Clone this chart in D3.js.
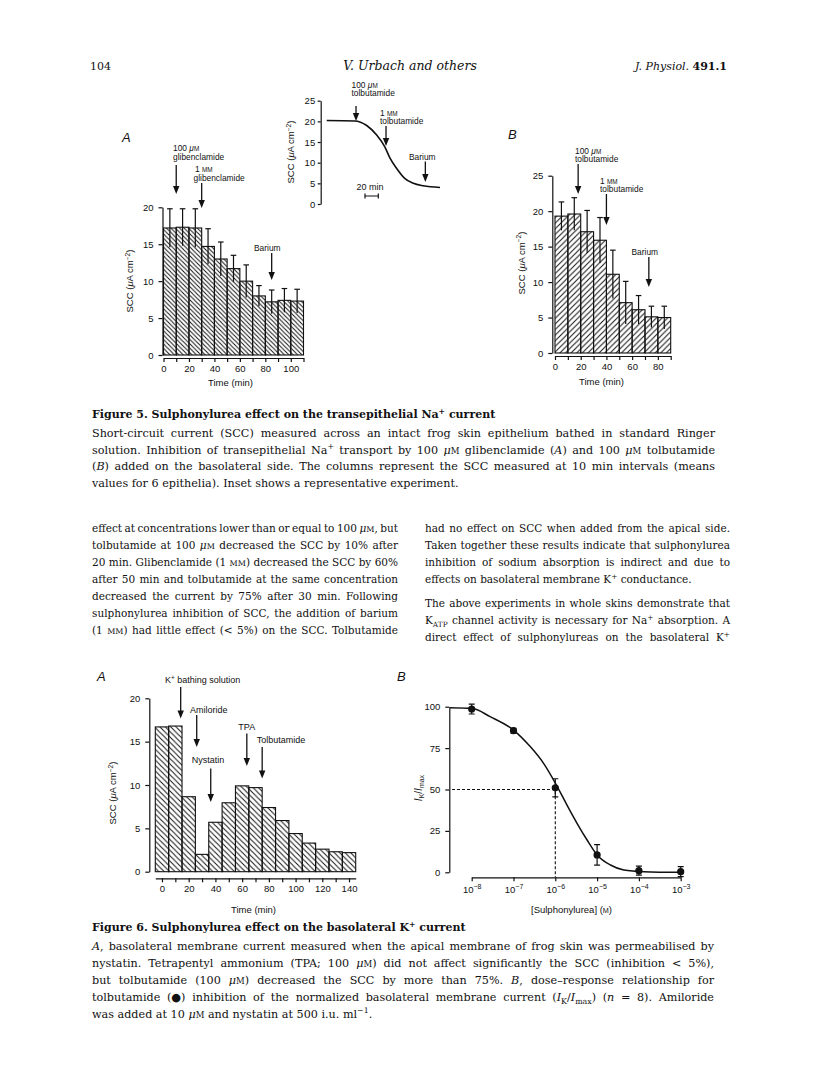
<!DOCTYPE html>
<html>
<head>
<meta charset="utf-8">
<script src="https://cdn.jsdelivr.net/npm/d3@7"></script>
<style>
  body { margin: 0; background: #fff; }
  svg  { display: block; }
  .ax text { font-family: "Liberation Sans", Arial, sans-serif; font-size: 9.5px; fill: #111; }
  .ax line, .ax path { stroke: #111; stroke-width: 1.2; }
</style>
</head>
<body>
<svg id="page" width="816" height="1068"></svg>
<script>
// ── Data: Figure 5 ────────────────────────────
const t5a   = [0, 10, 20, 30, 40, 50, 60, 70, 80, 90, 100];
const scc5a = [17.2, 17.3, 17.2, 14.7, 13.0, 11.7, 10.0, 8.0, 7.2, 7.4, 7.3];
const sem5a = [2.6, 2.5, 2.6, 2.4, 2.3, 1.8, 2.2, 1.4, 1.6, 1.6, 1.6];
const ev5a  = [10, 30, 85];

const t5b   = [0, 10, 20, 30, 40, 50, 60, 70, 80];
const scc5b = [19.3, 19.6, 17.1, 15.9, 11.1, 7.1, 6.1, 5.1, 5.0];
const sem5b = [2.0, 2.3, 3.0, 3.2, 3.4, 3.0, 2.0, 1.5, 1.6];
const ev5b  = [18, 40, 73];

const insetT   = [0, 42, 60, 75, 87, 95, 105, 117, 130, 145, 170];
const insetSCC = [20.2, 20.1, 19.0, 16.7, 13.9, 11.1, 8.6, 6.2, 5.0, 4.4, 4.0];
const evInset  = [44, 89, 148];

// ── Data: Figure 6 ────────────────────────────
const t6a   = [0, 10, 20, 30, 40, 50, 60, 70, 80, 90, 100, 110, 120, 130, 140];
const scc6a = [16.7, 16.8, 8.65, 2.0, 5.7, 7.95, 9.9, 9.7, 7.4, 5.9, 4.4, 3.3, 2.6, 2.3, 2.2];
const ev6a  = [14, 26, 36.5, 63.5, 75];

const conc6b = [1e-8, 1e-7, 1e-6, 1e-5, 1e-4, 1e-3];
const resp6b = [98.6, 85.5, 51.0, 10.5, 1.0, 0.4];
const sem6b  = [3.0, 1.5, 5.5, 6.2, 2.7, 3.0];
const fitLogC = [-8.52, -8, -7.56, -7, -6.6, -6.28, -5.96, -5.72, -5.48, -5.24, -5, -4.68, -4.36, -3.88, -3];
const fitResp = [99.4, 99.0, 94.0, 85.9, 75.9, 65.8, 52.1, 40.6, 29.6, 19.5, 10.5, 4.4, 1.4, 0.4, 0];

const ticks20  = [0, 5, 10, 15, 20];
const ticks25  = [0, 5, 10, 15, 20, 25];
const ticks100 = [0, 25, 50, 75, 100];

// ── Text ──────────────────────────────────────
const cap5 = [
  "Short-circuit current (SCC) measured across an intact frog skin epithelium bathed in standard Ringer",
  "solution. Inhibition of transepithelial Na<sup>+</sup> transport by 100 <i>μ</i><sc>M</sc> glibenclamide (<i>A</i>) and 100 <i>μ</i><sc>M</sc> tolbutamide",
  "(<i>B</i>) added on the basolateral side. The columns represent the SCC measured at 10 min intervals (means",
  "values for 6 epithelia). Inset shows a representative experiment."
];
const bodyLeft = [
  "effect at concentrations lower than or equal to 100 <i>μ</i><sc>M</sc>, but",
  "tolbutamide at 100 <i>μ</i><sc>M</sc> decreased the SCC by 10% after",
  "20 min. Glibenclamide (1 <sc>MM</sc>) decreased the SCC by 60%",
  "after 50 min and tolbutamide at the same concentration",
  "decreased the current by 75% after 30 min. Following",
  "sulphonylurea inhibition of SCC, the addition of barium",
  "(1 <sc>MM</sc>) had little effect (< 5%) on the SCC. Tolbutamide"
];
const bodyRight = [
  "had no effect on SCC when added from the apical side.",
  "Taken together these results indicate that sulphonylurea",
  "inhibition of sodium absorption is indirect and due to",
  "effects on basolateral membrane K<sup>+</sup> conductance.",
  "The above experiments in whole skins demonstrate that",
  "K<sub>ATP</sub> channel activity is necessary for Na<sup>+</sup> absorption. A",
  "direct effect of sulphonylureas on the basolateral K<sup>+</sup>"
];
const cap6 = [
  "<i>A</i>, basolateral membrane current measured when the apical membrane of frog skin was permeabilised by",
  "nystatin. Tetrapentyl ammonium (TPA; 100 <i>μ</i><sc>M</sc>) did not affect significantly the SCC (inhibition < 5%),",
  "but tolbutamide (100 <i>μ</i><sc>M</sc>) decreased the SCC by more than 75%. <i>B</i>, dose–response relationship for",
  "tolbutamide (●) inhibition of the normalized basolateral membrane current (<i>I</i><sub>K</sub>/<i>I</i><sub>max</sub>) (<i>n</i> = 8). Amiloride",
  "was added at 10 <i>μ</i><sc>M</sc> and nystatin at 500 i.u. ml<sup>−1</sup>."
];

const INK   = "#111";
const SANS  = '"Liberation Sans", Arial, sans-serif';
const SERIF = '"DejaVu Serif", serif';

const svg  = d3.select("#page");
svg.append("rect").attr("width", 816).attr("height", 1068).attr("fill", "#fff");
const defs = svg.append("defs");

// ── Helpers ───────────────────────────────────
function hatch(id, dir, s) {
  const p = defs.append("pattern").attr("id", id)
    .attr("patternUnits", "userSpaceOnUse")
    .attr("width", s).attr("height", s);
  const d = dir === "/"
    ? `M-1,1 l2,-2 M0,${s} l${s},${-s} M${s - 1},${s + 1} l2,-2`
    : `M-1,${s - 1} l2,2 M0,0 l${s},${s} M${s - 1},-1 l2,2`;
  p.append("path").attr("d", d).attr("stroke", INK).attr("stroke-width", 1);
}
hatch("h5a", "\\", 4.4);
hatch("h5b", "/", 5.6);
hatch("h6a", "\\", 5.4);

// tiny markup: <i> <b> <sup> <sub> <sc>
function rich(sel, str, fs) {
  const re = /<(i|b|sup|sub|sc)>(.*?)<\/\1>/g;
  let last = 0, off = 0, m;
  const put = (txt, kind) => {
    if (!txt) return;
    const target = kind === "sup" ? -0.4 * fs : kind === "sub" ? 0.28 * fs : 0;
    const t = sel.append("tspan").text(txt);
    if (target !== off) t.attr("dy", target - off);
    off = target;
    if (kind === "i") t.attr("font-style", "italic");
    if (kind === "b") t.attr("font-weight", "bold");
    if (kind === "sup" || kind === "sub") t.attr("font-size", 0.7 * fs);
    if (kind === "sc") t.attr("font-size", 0.76 * fs);
  };
  while ((m = re.exec(str))) {
    put(str.slice(last, m.index), null);
    put(m[2], m[1]);
    last = re.lastIndex;
  }
  put(str.slice(last), null);
}

function txt(g, x, yb, str, fs, o = {}) {
  const t = g.append("text").attr("x", x).attr("y", yb)
    .attr("font-family", o.family || SERIF)
    .attr("font-size", fs)
    .attr("fill", INK);
  if (o.weight) t.attr("font-weight", o.weight);
  if (o.italic) t.attr("font-style", "italic");
  if (o.anchor) t.attr("text-anchor", o.anchor);
  rich(t, str, fs);
  if (o.width && t.node().getComputedTextLength() > o.width) {
    t.attr("textLength", o.width).attr("lengthAdjust", "spacingAndGlyphs");
  }
  return t;
}

// justified line: one text per word, gaps spread evenly to fill the width
function justLine(g, x, yb, str, fs, width) {
  const words = str.split(" ");
  const ts = words.map(w => {
    const t = g.append("text").attr("y", yb)
      .attr("font-family", SERIF).attr("font-size", fs).attr("fill", INK);
    rich(t, w, fs);
    return t;
  });
  const ws  = ts.map(t => t.node().getComputedTextLength());
  const gap = Math.max(0.2 * fs, (width - d3.sum(ws)) / (words.length - 1));
  let cx = x;
  ts.forEach((t, i) => { t.attr("x", cx); cx += ws[i] + gap; });
}

// sans label given its vertical centre
function note(g, x, yc, str, fs = 8.4) {
  return txt(g, x, yc + 0.35 * fs, str, fs, { family: SANS });
}

function yTitle(g, xc, yc, str, fs = 9.5) {
  const t = g.append("text")
    .attr("transform", `translate(${xc + 0.35 * fs},${yc}) rotate(-90)`)
    .attr("text-anchor", "middle")
    .attr("font-family", SANS).attr("font-size", fs).attr("fill", INK);
  rich(t, str, fs);
}

function arrow(g, x, y1, y2) {
  g.append("line")
    .attr("x1", x).attr("x2", x).attr("y1", y1).attr("y2", y2 - 6)
    .attr("stroke", INK).attr("stroke-width", 1.3);
  g.append("path")
    .attr("d", `M${x - 3.2},${y2 - 8}L${x + 3.2},${y2 - 8}L${x},${y2}Z`)
    .attr("fill", INK);
}

function panelLetter(g, x, yc, letter) {
  g.append("text").attr("x", x).attr("y", yc + 4.5)
    .attr("font-family", SANS).attr("font-size", 13).attr("font-style", "italic")
    .attr("fill", INK).text(letter);
}

function bars(g, times, vals, x, y, pat, off, w) {
  g.selectAll(null).data(times).join("rect")
    .attr("x", d => x(d + off))
    .attr("width", d => x(d + off + w) - x(d + off))
    .attr("y", (d, i) => y(vals[i]))
    .attr("height", (d, i) => y(0) - y(vals[i]))
    .attr("fill", `url(#${pat})`)
    .attr("stroke", INK).attr("stroke-width", 1.1);
}

function errBars(g, times, vals, sems, x, y, off, w) {
  const cx = d => x(d + off + w / 2);
  g.selectAll(null).data(times).join("line")
    .attr("x1", cx).attr("x2", cx)
    .attr("y1", (d, i) => y(vals[i] - sems[i]))
    .attr("y2", (d, i) => y(vals[i] + sems[i]))
    .attr("stroke", INK).attr("stroke-width", 1.2);
  g.selectAll(null).data(times).join("line")
    .attr("x1", d => cx(d) - 2.8).attr("x2", d => cx(d) + 2.8)
    .attr("y1", (d, i) => y(vals[i] + sems[i]))
    .attr("y2", (d, i) => y(vals[i] + sems[i]))
    .attr("stroke", INK).attr("stroke-width", 1.2);
}

function yAxis(g, x0, y, ticks, pad = 5, size = 4) {
  g.append("g").attr("class", "ax")
    .attr("transform", `translate(${x0},0)`)
    .call(d3.axisLeft(y).tickValues(ticks).tickSize(size).tickSizeOuter(0).tickPadding(pad));
}

function xAxis(g, y0, x, ticks, fmt) {
  g.append("g").attr("class", "ax")
    .attr("transform", `translate(0,${y0})`)
    .call(d3.axisBottom(x).tickValues(ticks).tickFormat(fmt).tickSize(4).tickSizeOuter(0).tickPadding(3));
}

const every10 = (a, b) => d3.range(a, b + 1, 10);
const SCC = "SCC (<i>μ</i>A cm<sup>−2</sup>)";

// ── Header ────────────────────────────────────
txt(svg, 90, 70, "104", 11);
txt(svg, 410, 70, "V. Urbach and others", 12.5, { italic: true, anchor: "middle" });
txt(svg, 727, 70, "<i>J. Physiol.</i> <b>491.1</b>", 11, { anchor: "end" });

// ── Figure 5A ─────────────────────────────────
{
  const g = svg.append("g");
  const x = d3.scaleLinear().domain([0, 110]).range([163.5, 303.5]);
  const y = d3.scaleLinear().domain([0, 20]).range([355, 207.3]);
  bars(g, t5a, scc5a, x, y, "h5a", 0, 10);
  errBars(g, t5a, scc5a, sem5a, x, y, 0, 10);
  yAxis(g, 162.5, y, ticks20);
  xAxis(g, 358, x, every10(0, 110), d => (d % 20 === 0 && d <= 100) ? d : "");
  note(g, 208, 383, "Time (min)", 9.5);
  yTitle(g, 130, 281, SCC);
  panelLetter(g, 122, 137, "A");
  note(g, 173, 148.5, "100 <i>μ</i><sc>M</sc>");
  note(g, 173, 157, "glibenclamide");
  arrow(g, x(ev5a[0]), 165, 194);
  note(g, 195, 169.5, "1 <sc>MM</sc>");
  note(g, 193.5, 178, "glibenclamide");
  arrow(g, x(ev5a[1]), 183, 208);
  note(g, 254, 248, "Barium");
  arrow(g, x(ev5a[2]), 253, 280);
}

// ── Figure 5 inset ────────────────────────────
{
  const g = svg.append("g");
  const x = d3.scaleLinear().domain([0, 170]).range([326.7, 440]);
  const y = d3.scaleLinear().domain([0, 25]).range([204, 100.7]);
  yAxis(g, 320.7, y, ticks25, 2.5, 3);
  yTitle(g, 291, 152, SCC);
  g.append("path")
    .datum(insetT.map((t, i) => [t, insetSCC[i]]))
    .attr("d", d3.line().x(d => x(d[0])).y(d => y(d[1])).curve(d3.curveMonotoneX))
    .attr("fill", "none").attr("stroke", INK).attr("stroke-width", 1.6);
  note(g, 351.5, 85, "100 <i>μ</i><sc>M</sc>");
  note(g, 351.5, 93.5, "tolbutamide");
  arrow(g, x(evInset[0]), 106, 121);
  note(g, 380, 113, "1 <sc>MM</sc>");
  note(g, 380, 121.5, "tolbutamide");
  arrow(g, x(evInset[1]), 126, 146);
  note(g, 409, 156.7, "Barium");
  arrow(g, x(evInset[2]), 161.5, 182);
  note(g, 356.5, 187, "20 min", 9);
  const sb = d3.scaleLinear().domain([0, 20]).range([365, 378.3]);
  g.append("path")
    .attr("d", `M${sb(0)},193.5V198.5M${sb(0)},196H${sb(20)}M${sb(20)},193.5V198.5`)
    .attr("stroke", INK).attr("stroke-width", 1.2).attr("fill", "none");
}

// ── Figure 5B ─────────────────────────────────
{
  const g = svg.append("g");
  const x = d3.scaleLinear().domain([0, 90]).range([555, 670.7]);
  const y = d3.scaleLinear().domain([0, 25]).range([353, 175.7]);
  bars(g, t5b, scc5b, x, y, "h5b", 0, 10);
  errBars(g, t5b, scc5b, sem5b, x, y, 0, 10);
  yAxis(g, 552.3, y, ticks25);
  xAxis(g, 356, x, every10(0, 90), d => (d % 20 === 0) ? d : "");
  note(g, 579, 382, "Time (min)", 9.5);
  yTitle(g, 521.7, 263, SCC);
  panelLetter(g, 508, 134, "B");
  note(g, 575, 151, "100 <i>μ</i><sc>M</sc>");
  note(g, 575, 159.5, "tolbutamide");
  arrow(g, x(ev5b[0]), 164, 194);
  note(g, 600, 181, "1 <sc>MM</sc>");
  note(g, 600, 189.5, "tolbutamide");
  arrow(g, x(ev5b[1]), 194, 225);
  note(g, 631.5, 251.7, "Barium");
  arrow(g, x(ev5b[2]), 257, 287);
}

// ── Figure 5 caption ──────────────────────────
txt(svg, 92, 418, "Figure 5. Sulphonylurea effect on the transepithelial Na<sup>+</sup> current", 11, { weight: "bold" });
cap5.forEach((s, i) => {
  const yb = 437 + i * 16.7;
  if (i < 3) justLine(svg, 92, yb, s, 11.2, 623);
  else txt(svg, 92, yb, s, 11.2);
});

// ── Body text ─────────────────────────────────
bodyLeft.forEach((s, i) => justLine(svg, 92, 532 + i * 17, s, 10.5, 306));
bodyRight.forEach((s, i) => {
  const yb = 532 + i * 17 + (i > 3 ? 7 : 0);
  if (i === 3) txt(svg, 425, yb, s, 10.5);
  else justLine(svg, 425, yb, s, 10.5, 305);
});

// ── Figure 6A ─────────────────────────────────
{
  const g = svg.append("g");
  const x = d3.scaleLinear().domain([-5, 145]).range([155.3, 355.7]);
  const y = d3.scaleLinear().domain([0, 20]).range([871.7, 698.3]);
  bars(g, t6a, scc6a, x, y, "h6a", -5, 10);
  yAxis(g, 149.3, y, ticks20);
  xAxis(g, 878.3, x, t6a, d => (d % 20 === 0) ? d : "");
  note(g, 231, 910, "Time (min)", 9.5);
  yTitle(g, 113, 793, SCC);
  panelLetter(g, 97, 676, "A");
  note(g, 165, 680, "K<sup>+</sup> bathing solution", 9);
  arrow(g, x(ev6a[0]), 687, 718.5);
  note(g, 190, 710, "Amiloride", 9);
  arrow(g, x(ev6a[1]), 715, 747);
  note(g, 191.7, 760, "Nystatin", 9);
  arrow(g, x(ev6a[2]), 768.5, 802);
  note(g, 238.3, 727, "TPA", 9);
  arrow(g, x(ev6a[3]), 733.5, 766);
  note(g, 256.7, 740, "Tolbutamide", 9);
  arrow(g, x(ev6a[4]), 747, 778.5);
}

// ── Figure 6B ─────────────────────────────────
{
  const g = svg.append("g");
  const x = d3.scaleLog().domain([1e-8, 1e-3]).range([471.7, 680.7]);
  const y = d3.scaleLinear().domain([0, 100]).range([872.3, 706.7]);
  yAxis(g, 449.3, y, ticks100);
  const ax = g.append("g").attr("class", "ax")
    .attr("transform", "translate(0,877.3)")
    .call(d3.axisBottom(x).tickValues(conc6b).tickSize(4).tickSizeOuter(0).tickPadding(5).tickFormat(""));
  ax.selectAll(".tick text").each(function(d) {
    const t = d3.select(this).text("10");
    t.append("tspan").attr("dy", -4).attr("font-size", 7).text("−" + Math.round(-Math.log10(d)));
  });
  // dashed IC50 guide
  g.append("path")
    .attr("d", `M452,${y(50)}H${x(1e-6)}V877`)
    .attr("fill", "none").attr("stroke", INK).attr("stroke-width", 1.1)
    .attr("stroke-dasharray", "3,2");
  g.append("path")
    .datum(fitLogC.map((e, i) => [Math.pow(10, e), fitResp[i]]))
    .attr("d", d3.line().x(d => x(d[0])).y(d => y(d[1])).curve(d3.curveMonotoneX))
    .attr("fill", "none").attr("stroke", INK).attr("stroke-width", 1.5);
  // error bars + points
  conc6b.forEach((c, i) => {
    const cx = x(c), hi = y(resp6b[i] + sem6b[i]), lo = y(resp6b[i] - sem6b[i]);
    g.append("path")
      .attr("d", `M${cx},${hi}V${lo}M${cx - 3},${hi}H${cx + 3}M${cx - 3},${lo}H${cx + 3}`)
      .attr("stroke", INK).attr("stroke-width", 1.2).attr("fill", "none");
  });
  g.selectAll(null).data(conc6b).join("circle")
    .attr("cx", d => x(d))
    .attr("cy", (d, i) => y(resp6b[i]))
    .attr("r", 3.6).attr("fill", INK);
  note(g, 531, 910, "[Sulphonylurea] (<sc>M</sc>)", 9.5);
  yTitle(g, 418, 788, "<i>I</i><sub>K</sub>/<i>I</i><sub>max</sub>", 10);
  panelLetter(g, 397, 676, "B");
}

// ── Figure 6 caption ──────────────────────────
txt(svg, 92, 931, "Figure 6. Sulphonylurea effect on the basolateral K<sup>+</sup> current", 11, { weight: "bold" });
cap6.forEach((s, i) => {
  const yb = 950 + i * 16.9;
  if (i < 4) justLine(svg, 92, yb, s, 11.2, 622);
  else txt(svg, 92, yb, s, 11.2);
});
</script>
</body>
</html>
